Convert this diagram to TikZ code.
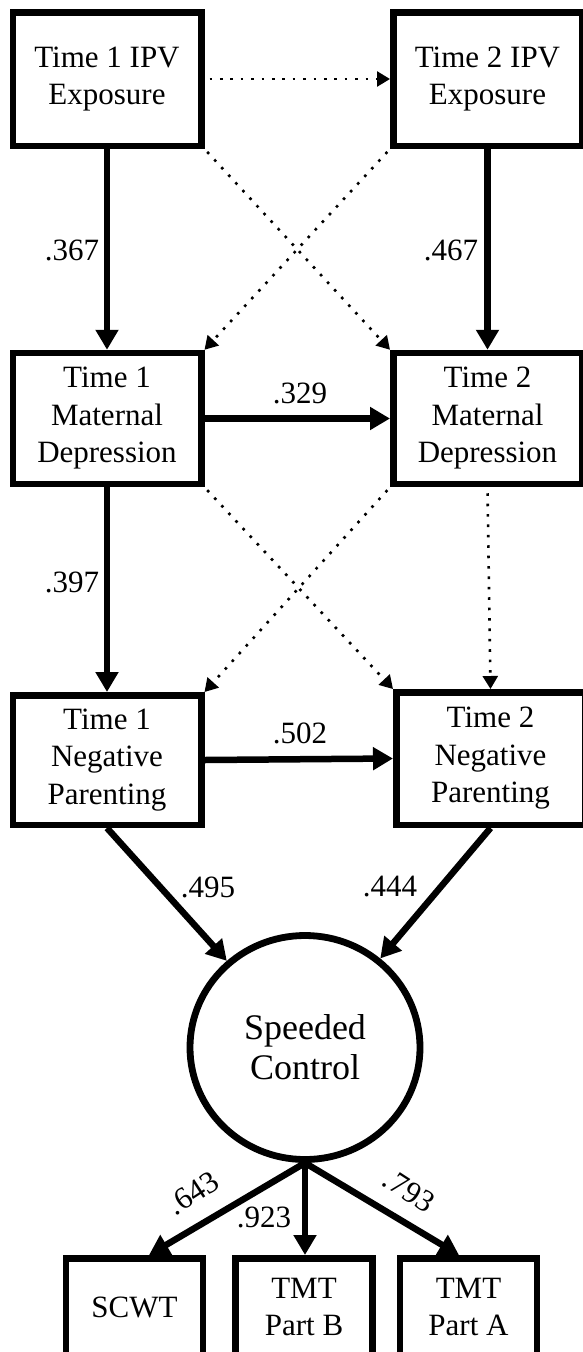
\documentclass[tikz,border=0pt]{standalone}
\usepackage{fontspec}
\setmainfont{Liberation Serif}
\usetikzlibrary{arrows.meta,shapes.geometric}
\tikzset{
  txt/.style={font=\fontsize{31}{37.5}\selectfont},
  varbox/.style={draw, line width=6.5pt, rectangle, align=center, txt,
    minimum width=188.5pt, inner sep=0pt},
  obsbox/.style={draw, line width=6.5pt, rectangle, align=center, txt,
    minimum width=137pt, minimum height=97.5pt, inner sep=0pt},
  latent/.style={draw, line width=6.8pt, ellipse, align=center,
    font=\fontsize{36}{40}\selectfont,
    minimum width=230pt, minimum height=224pt, inner sep=0pt},
  thk/.style={line width=6.5pt, -{Triangle[length=20pt,width=22pt]}},
  dot/.style={line width=2.6pt, dash pattern=on 2.6pt off 7.8pt,
    -{Triangle[length=13pt,width=15pt]}},
  lbl/.style={txt, inner sep=0pt}
}
\begin{document}
\begin{tikzpicture}[x=1pt,y=-1pt]
\useasboundingbox (0,0) rectangle (583,1352);
\clip (0,0) rectangle (583,1352);
% boxes
\node[varbox, minimum height=133.5pt] (t1ipv) at (107,79) {Time 1 IPV\\Exposure};
\node[varbox, minimum height=133.5pt] (t2ipv) at (487.5,79) {Time 2 IPV\\Exposure};
\node[varbox, minimum height=131pt] (t1mat) at (107,418.5) {Time 1\\Maternal\\Depression};
\node[varbox, minimum height=131pt] (t2mat) at (487.5,418.5) {Time 2\\Maternal\\Depression};
\node[varbox, minimum height=129.5pt] (t1neg) at (107,760) {Time 1\\Negative\\Parenting};
\node[varbox, minimum height=132.5pt] (t2neg) at (490.5,758.5) {Time 2\\Negative\\Parenting};
\node[latent] (sc) at (305,1047.5) {Speeded\\Control};
\node[obsbox] (scwt) at (134.5,1307) {SCWT};
\node[obsbox] (tmtb) at (304,1307) {TMT\\Part B};
\node[obsbox] (tmta) at (468.5,1307) {TMT\\Part A};
% solid paths
\draw[thk] (t1ipv.south) -- (t1mat.north);
\draw[thk] (t2ipv.south) -- (t2mat.north);
\draw[thk] (t1mat.east) -- (t2mat.west);
\draw[thk] (t1mat.south) -- (t1neg.north);
\draw[thk] (t1neg.east) -- (t2neg.west);
\draw[thk] (t1neg.south) -- (sc);
\draw[thk] (t2neg.south) -- (sc);
\draw[thk] (sc.south) -- ([xshift=14.5pt]scwt.north);
\draw[thk] (sc.south) -- ([xshift=1pt]tmtb.north);
\draw[thk] (sc.south) -- ([xshift=-9.5pt]tmta.north);
% dotted paths
\draw[dot, shorten <=5pt] (t1ipv.east) -- (t2ipv.west);
\draw[dot, shorten <=4pt] (t1ipv.south east) -- (t2mat.north west);
\draw[dot, shorten <=4pt] (t2ipv.south west) -- (t1mat.north east);
\draw[dot, shorten <=4pt] (t1mat.south east) -- (t2neg.north west);
\draw[dot, shorten <=4pt] (t2mat.south west) -- (t1neg.north east);
\draw[dot, shorten <=6pt] (t2mat.south) -- (t2neg.north);
% labels
\node[lbl] (l367) at (72,250) {.367};
\node[lbl] (l467) at (451,250) {.467};
\node[lbl] (l329) at (300,393) {.329};
\node[lbl] (l397) at (72,582) {.397};
\node[lbl] (l502) at (300,733) {.502};
\node[lbl] (l495) at (208,887) {.495};
\node[lbl] (l444) at (390,887) {.444};
\node[lbl, rotate=33] (l643) at (193,1193) {.643};
\node[lbl] (l923) at (264,1217) {.923};
\node[lbl, rotate=-33] (l793) at (409,1191) {.793};
\end{tikzpicture}
\end{document}
